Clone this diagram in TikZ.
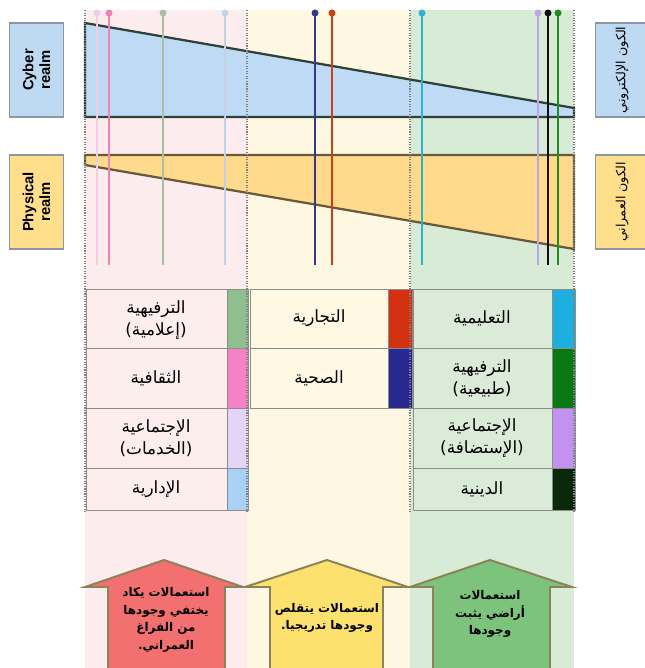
\documentclass[tikz,border=0pt]{standalone}
\usepackage{fontspec}
\setmainfont{Liberation Sans}
\newfontfamily\arabicfont[Script=Arabic]{DejaVu Sans}
\TeXXeTstate=1
\newcommand{\ar}[1]{{\arabicfont\beginR #1\endR}}

\definecolor{roseFond}{RGB}{252,236,238}
\definecolor{jauneFond}{RGB}{254,247,226}
\definecolor{vertFond}{RGB}{216,235,214}
\definecolor{cyberBleu}{RGB}{190,218,245}
\definecolor{physJaune}{RGB}{255,217,140}
\definecolor{traitFonce}{RGB}{45,65,55}
\definecolor{labelBleu}{RGB}{190,218,242}
\definecolor{labelJaune}{RGB}{255,222,140}
\definecolor{bordGris}{RGB}{140,150,160}
\definecolor{celRose}{RGB}{253,238,238}
\definecolor{celJaune}{RGB}{255,249,228}
\definecolor{celVert}{RGB}{218,236,216}
\definecolor{celTrait}{RGB}{140,140,140}
\definecolor{swA}{RGB}{143,190,143}
\definecolor{swB}{RGB}{245,130,195}
\definecolor{swC}{RGB}{228,212,245}
\definecolor{swD}{RGB}{170,208,245}
\definecolor{swE}{RGB}{210,50,15}
\definecolor{swF}{RGB}{40,40,145}
\definecolor{swG}{RGB}{30,175,225}
\definecolor{swH}{RGB}{10,120,20}
\definecolor{swI}{RGB}{195,145,240}
\definecolor{swJ}{RGB}{10,40,10}
\definecolor{vA}{RGB}{240,205,225}
\definecolor{vB}{RGB}{240,130,180}
\definecolor{vC}{RGB}{170,192,165}
\definecolor{vD}{RGB}{195,210,230}
\definecolor{vE}{RGB}{55,55,140}
\definecolor{vF}{RGB}{200,65,20}
\definecolor{vG}{RGB}{45,180,200}
\definecolor{vH}{RGB}{190,165,230}
\definecolor{vI}{RGB}{15,15,15}
\definecolor{vJ}{RGB}{30,140,30}
\definecolor{flRouge}{RGB}{242,112,112}
\definecolor{flJaune}{RGB}{253,225,110}
\definecolor{flVert}{RGB}{125,195,125}
\definecolor{flBord}{RGB}{140,130,90}

\begin{document}
\begin{tikzpicture}[x=0.025cm,y=-0.025cm]
\tikzset{etiquette/.style={draw=bordGris, line width=0.8pt, rotate=90, minimum width=2.35cm, minimum height=1.33cm, inner sep=0pt, align=center},
  forme/.style={draw=traitFonce, line width=1.6pt},
  ligne/.style={line width=1.8pt},
  cellule/.style={draw=celTrait, line width=0.6pt},
  texte/.style={align=center, font=\fontsize{12}{15.5}\selectfont, inner sep=0pt},
  fleche/.style={draw=flBord, line width=1.4pt},
  flecheTexte/.style={align=center, font=\bfseries\fontsize{8.5}{12.5}\selectfont, inner sep=0pt}}
\useasboundingbox (0,0) rectangle (644,668);
% fonds des colonnes
\fill[roseFond] (85,10) rectangle (247,668);
\fill[jauneFond] (247,10) rectangle (410,668);
\fill[vertFond] (410,10) rectangle (574,668);
% etiquettes laterales
\node[etiquette, fill=labelBleu, font=\bfseries\fontsize{10.5}{12}\selectfont] (cyber) at (36.5,70) {Cyber\\realm};
\node[etiquette, fill=labelJaune, font=\bfseries\fontsize{10.5}{12}\selectfont] (physique) at (36.5,202) {Physical\\realm};
\node[etiquette, fill=labelBleu, font=\fontsize{9}{11}\selectfont] (kawnE) at (622,70) {\ar{الكون الإلكتروني}};
\node[etiquette, fill=labelJaune, font=\fontsize{9}{11}\selectfont] (kawnU) at (622,202) {\ar{الكون العمراني}};
% les deux trapezes
\draw[forme, fill=cyberBleu] (85,23) -- (574,108) -- (574,117) -- (85,117) -- cycle;
\draw[forme, draw=traitFonce!60!brown, fill=physJaune] (85,155) -- (574,155) -- (574,249) -- (85,165) -- cycle;
% lignes verticales
\coordinate (h1) at (97,13);  \coordinate (b1) at (97,265);
\coordinate (h2) at (109,13); \coordinate (b2) at (109,265);
\coordinate (h3) at (163,13); \coordinate (b3) at (163,265);
\coordinate (h4) at (225,13); \coordinate (b4) at (225,265);
\coordinate (h5) at (315,13); \coordinate (b5) at (315,265);
\coordinate (h6) at (332,13); \coordinate (b6) at (332,265);
\coordinate (h7) at (422,13); \coordinate (b7) at (422,265);
\coordinate (h8) at (538,13); \coordinate (b8) at (538,265);
\coordinate (h9) at (548,13); \coordinate (b9) at (548,265);
\coordinate (h10) at (558,13); \coordinate (b10) at (558,265);
\draw[ligne, vA] (h1) -- (b1); \fill[vA] (h1) circle (3.5);
\draw[ligne, vB] (h2) -- (b2); \fill[vB] (h2) circle (3.5);
\draw[ligne, vC] (h3) -- (b3); \fill[vC] (h3) circle (3.5);
\draw[ligne, vD] (h4) -- (b4); \fill[vD] (h4) circle (3.5);
\draw[ligne, vE] (h5) -- (b5); \fill[vE] (h5) circle (3.5);
\draw[ligne, vF] (h6) -- (b6); \fill[vF] (h6) circle (3.5);
\draw[ligne, vG] (h7) -- (b7); \fill[vG] (h7) circle (3.5);
\draw[ligne, vH] (h8) -- (b8); \fill[vH] (h8) circle (3.5);
\draw[ligne, vI] (h9) -- (b9); \fill[vI] (h9) circle (3.5);
\draw[ligne, vJ] (h10) -- (b10); \fill[vJ] (h10) circle (3.5);
% tableau gauche
\draw[cellule, fill=celRose] (86,289) rectangle (227,348);
\draw[cellule, fill=celRose] (86,348) rectangle (227,408);
\draw[cellule, fill=celRose] (86,408) rectangle (227,468);
\draw[cellule, fill=celRose] (86,468) rectangle (227,510);
\draw[cellule, fill=swA] (227,289) rectangle (248,348);
\draw[cellule, fill=swB] (227,348) rectangle (248,408);
\draw[cellule, fill=swC] (227,408) rectangle (248,468);
\draw[cellule, fill=swD] (227,468) rectangle (248,510);
\node[texte] (g1) at (156,320) {\ar{الترفيهية}\\\ar{(إعلامية)}};
\node[texte] (g2) at (156,378) {\ar{الثقافية}};
\node[texte] (g3) at (156,438) {\ar{الإجتماعية}\\\ar{(الخدمات)}};
\node[texte] (g4) at (156,489) {\ar{الإدارية}};
% tableau milieu
\draw[cellule, fill=celJaune] (250,289) rectangle (388,348);
\draw[cellule, fill=celJaune] (250,348) rectangle (388,408);
\draw[cellule, fill=swE] (388,289) rectangle (412,348);
\draw[cellule, fill=swF] (388,348) rectangle (412,408);
\node[texte] (m1) at (319,318) {\ar{التجارية}};
\node[texte] (m2) at (319,378) {\ar{الصحية}};
% tableau droite
\draw[cellule, fill=celVert] (413,289) rectangle (552,348);
\draw[cellule, fill=celVert] (413,348) rectangle (552,408);
\draw[cellule, fill=celVert] (413,408) rectangle (552,468);
\draw[cellule, fill=celVert] (413,468) rectangle (552,510);
\draw[cellule, fill=swG] (552,289) rectangle (575,348);
\draw[cellule, fill=swH] (552,348) rectangle (575,408);
\draw[cellule, fill=swI] (552,408) rectangle (575,468);
\draw[cellule, fill=swJ] (552,468) rectangle (575,510);
\node[texte] (d1) at (482,318) {\ar{التعليمية}};
\node[texte] (d2) at (482,378) {\ar{الترفيهية}\\\ar{(طبيعية)}};
\node[texte] (d3) at (482,438) {\ar{الإجتماعية}\\\ar{(الإستضافة)}};
\node[texte] (d4) at (482,489) {\ar{الدينية}};
% pointilles des colonnes
\draw[densely dotted, gray, line width=0.8pt] (85,10) -- (85,512);
\draw[densely dotted, gray, line width=0.8pt] (247,10) -- (247,512);
\draw[densely dotted, gray, line width=0.8pt] (410,10) -- (410,512);
\draw[densely dotted, gray, line width=0.8pt] (574,10) -- (574,512);
% fleches du bas
\draw[fleche, fill=flRouge] (108,668) -- (108,587) -- (85,587) -- (164,560) -- (243,587) -- (225,587) -- (225,668);
\draw[fleche, fill=flJaune] (270,668) -- (270,587) -- (245,587) -- (327,560) -- (408,587) -- (383,587) -- (383,668);
\draw[fleche, fill=flVert] (433,668) -- (433,587) -- (410,587) -- (490,560) -- (572,587) -- (550,587) -- (550,668);
\node[flecheTexte] (fr) at (166,620) {\ar{استعمالات يكاد}\\\ar{يختفي وجودها}\\\ar{من الفراغ}\\\ar{العمراني.}};
\node[flecheTexte] (fj) at (327,618) {\ar{استعمالات يتقلص}\\\ar{وجودها تدريجيا.}};
\node[flecheTexte] (fv) at (490,614) {\ar{استعمالات}\\\ar{أراضي يثبت}\\\ar{وجودها}};
\end{tikzpicture}
\end{document}
